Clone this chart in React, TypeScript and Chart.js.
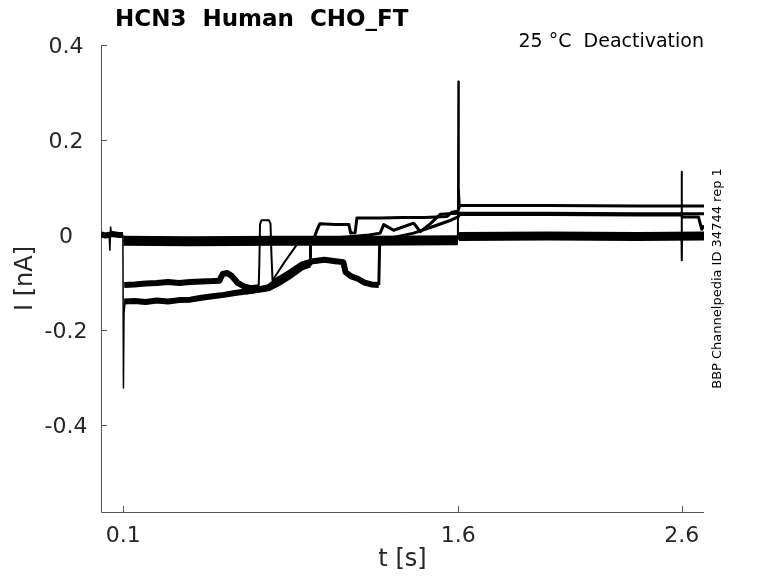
import React, { useEffect, useRef } from "react";
import { Chart, registerables } from "chart.js";

Chart.register(...registerables);

// ---- axes / ticks ----
const xTicks = [0.1, 1.6, 2.6];
const yTicks = [-0.4, -0.2, 0, 0.2, 0.4];
const xRange = [0, 2.7];
const yRange = [-0.583, 0.4];

// ---- texts ----
const titleText = "HCN3  Human  CHO_FT";
const conditionText = "25 °C  Deactivation";
const sideText = "BBP Channelpedia ID 34744 rep 1";
const xTitle = "t [s]";
const yTitle = "I [nA]";

// ---- traces (t in s, I in nA) ----
const preT = [0, 0.02, 0.05, 0.08, 0.099];
const preI = [0.001, -0.001, 0.002, 0.0, 0.0];

const blipT = [0.036, 0.04, 0.043, 0.047];
const blipI = [0.0, -0.032, 0.017, 0.0];

const spike1T = [0.098, 0.1005, 0.103, 0.108];
const spike1I = [0.0, -0.322, -0.165, -0.14];

const bandT = [0.1, 0.4, 0.8, 1.2, 1.598];
const bandI = [-0.012, -0.013, -0.012, -0.012, -0.011];

const band2T = [1.602, 2.0, 2.4, 2.7];
const band2I = [-0.003, -0.002, -0.003, -0.002];

const spike2T = [1.598, 1.6, 1.602, 1.606];
const spike2I = [-0.01, 0.323, 0.1, 0.062];

const spike3T = [2.599, 2.6, 2.601, 2.602];
const spike3I = [0.0, 0.133, -0.053, 0.0];

const aNoisyT = [0.104, 0.15, 0.2, 0.25, 0.3, 0.35, 0.4, 0.45, 0.5, 0.53, 0.545, 0.565, 0.585, 0.61, 0.64, 0.67, 0.706];
const aNoisyI = [-0.105, -0.104, -0.102, -0.101, -0.099, -0.101, -0.099, -0.098, -0.097, -0.096, -0.082, -0.08, -0.086, -0.1, -0.108, -0.112, -0.11];

const aPulseT = [0.706, 0.709, 0.712, 0.718, 0.752, 0.759, 0.763, 0.768, 0.776, 0.82, 0.87, 0.89];
const aPulseI = [-0.11, -0.06, 0.022, 0.031, 0.031, 0.024, -0.04, -0.095, -0.09, -0.058, -0.025, -0.012];

const aUpperT = [0.89, 0.95, 0.965, 0.98, 1.05, 1.11, 1.118, 1.138, 1.146, 1.25, 1.35, 1.45, 1.55, 1.57, 1.598, 1.606, 2.0, 2.4, 2.7];
const aUpperI = [-0.012, -0.012, 0.008, 0.024, 0.022, 0.022, 0.004, 0.005, 0.036, 0.036, 0.037, 0.037, 0.039, 0.048, 0.05, 0.062, 0.062, 0.061, 0.061];

const bNoisyT = [0.104, 0.15, 0.2, 0.25, 0.3, 0.35, 0.4, 0.45, 0.5, 0.55, 0.6, 0.65, 0.7, 0.75, 0.8, 0.85, 0.9, 0.936];
const bNoisyI = [-0.14, -0.139, -0.141, -0.138, -0.14, -0.137, -0.136, -0.132, -0.129, -0.126, -0.122, -0.119, -0.116, -0.112, -0.1, -0.085, -0.068, -0.062];

const bUpperT = [0.936, 0.938, 1.0, 1.1, 1.2, 1.25, 1.266, 1.31, 1.4, 1.43, 1.475, 1.52, 1.598, 1.606, 2.0, 2.4, 2.7];
const bUpperI = [-0.062, -0.012, -0.008, -0.004, 0.0, 0.004, 0.022, 0.01, 0.025, 0.007, 0.024, 0.044, 0.046, 0.046, 0.046, 0.045, 0.045];

const cNoisyT = [0.65, 0.7, 0.75, 0.8, 0.85, 0.9, 0.95, 1.0, 1.05, 1.085, 1.095, 1.12, 1.15, 1.18, 1.21, 1.244];
const cNoisyI = [-0.119, -0.115, -0.11, -0.092, -0.078, -0.062, -0.055, -0.052, -0.055, -0.057, -0.078, -0.087, -0.092, -0.1, -0.104, -0.105];

const cUpperT = [1.244, 1.248, 1.3, 1.4, 1.5, 1.56, 1.598, 1.606, 2.0, 2.4, 2.6, 2.603, 2.675, 2.69, 2.7];
const cUpperI = [-0.105, -0.012, -0.006, 0.004, 0.02, 0.03, 0.038, 0.043, 0.043, 0.042, 0.042, 0.038, 0.038, 0.012, 0.02];

const FONT = "'DejaVu Sans', sans-serif";

function pts(t: number[], i: number[]) {
  return t.map((x, k) => ({ x, y: i[k] }));
}

function ds(t: number[], i: number[], width: number) {
  return {
    data: pts(t, i),
    borderColor: "#000000",
    backgroundColor: "#000000",
    borderWidth: width,
    pointRadius: 0,
    tension: 0,
    fill: false,
    borderJoinStyle: "round" as const,
    borderCapStyle: "butt" as const,
  };
}

const decoPlugin = {
  id: "deco",
  beforeDatasetsDraw(chart: any) {
    const { ctx, chartArea: a, scales } = chart;
    const xs = scales.x;
    const ys = scales.y;
    ctx.save();
    ctx.strokeStyle = "#555555";
    ctx.lineWidth = 1;
    ctx.beginPath();
    ctx.moveTo(a.left + 0.5, a.top);
    ctx.lineTo(a.left + 0.5, a.bottom + 0.5);
    ctx.lineTo(a.right, a.bottom + 0.5);
    for (const v of yTicks) {
      const py = Math.round(ys.getPixelForValue(v)) + 0.5;
      ctx.moveTo(a.left, py);
      ctx.lineTo(a.left + 6, py);
    }
    for (const v of xTicks) {
      const px = Math.round(xs.getPixelForValue(v)) + 0.5;
      ctx.moveTo(px, a.bottom);
      ctx.lineTo(px, a.bottom - 6);
    }
    ctx.stroke();
    ctx.restore();
  },
  afterDraw(chart: any) {
    const { ctx, chartArea: a, scales } = chart;
    const xs = scales.x;
    const ys = scales.y;
    ctx.save();
    ctx.fillStyle = "#262626";
    ctx.font = `22px ${FONT}`;
    ctx.textAlign = "center";
    ctx.textBaseline = "alphabetic";
    for (const v of yTicks) {
      const py = ys.getPixelForValue(v);
      ctx.fillText(String(v), 66, py + 8);
    }
    for (const v of xTicks) {
      const px = xs.getPixelForValue(v);
      ctx.fillText(String(v), px, a.bottom + 30);
    }
    // axis titles
    ctx.font = `24px ${FONT}`;
    ctx.fillText(xTitle, (a.left + a.right) / 2, a.bottom + 54);
    ctx.save();
    ctx.translate(26, (a.top + a.bottom) / 2);
    ctx.rotate(-Math.PI / 2);
    ctx.textBaseline = "middle";
    ctx.fillText(yTitle, 0, 0);
    ctx.restore();
    // title
    ctx.fillStyle = "#000000";
    ctx.font = `bold 23px ${FONT}`;
    ctx.textAlign = "left";
    ctx.fillText(titleText, a.left + 14, 26);
    // condition
    ctx.font = `19px ${FONT}`;
    ctx.textAlign = "right";
    ctx.fillText(conditionText, a.right, a.top + 2);
    // side text
    ctx.font = `13px ${FONT}`;
    ctx.save();
    ctx.translate(717.5, (a.top + a.bottom) / 2);
    ctx.rotate(-Math.PI / 2);
    ctx.textAlign = "center";
    ctx.textBaseline = "middle";
    ctx.fillText(sideText, 0, 0);
    ctx.restore();
    ctx.restore();
  },
};

export default function App() {
  const ref = useRef<HTMLCanvasElement | null>(null);
  useEffect(() => {
    if (!ref.current) return;
    const chart = new Chart(ref.current, {
      type: "line",
      data: {
        datasets: [
          ds(preT, preI, 6),
          ds(blipT, blipI, 1.5),
          ds(spike1T, spike1I, 1.5),
          ds(bandT, bandI, 10),
          ds(band2T, band2I, 9),
          ds(spike2T, spike2I, 2),
          ds(spike3T, spike3I, 2),
          ds(aNoisyT, aNoisyI, 6),
          ds(aPulseT, aPulseI, 2),
          ds(aUpperT, aUpperI, 3),
          ds(bNoisyT, bNoisyI, 6),
          ds(bUpperT, bUpperI, 3),
          ds(cNoisyT, cNoisyI, 6),
          ds(cUpperT, cUpperI, 3),
        ] as any,
      },
      options: {
        responsive: false,
        animation: false,
        devicePixelRatio: 1,
        layout: { padding: { left: 0, top: 45, right: 74, bottom: 0 } },
        plugins: {
          legend: { display: false },
          title: { display: false },
          tooltip: { enabled: false },
        },
        events: [],
        scales: {
          x: {
            type: "linear",
            min: xRange[0],
            max: xRange[1],
            grid: { display: false },
            border: { display: false },
            ticks: { display: false },
            afterFit: (s: any) => {
              s.height = 71;
            },
          },
          y: {
            type: "linear",
            min: yRange[0],
            max: yRange[1],
            grid: { display: false },
            border: { display: false },
            ticks: { display: false },
            afterFit: (s: any) => {
              s.width = 101;
            },
          },
        },
      } as any,
      plugins: [decoPlugin],
    });
    return () => chart.destroy();
  }, []);
  return (
    <div style={{ position: "absolute", left: 0, top: 0, width: 778, height: 583, background: "#ffffff" }}>
      <canvas ref={ref} width={778} height={583} style={{ display: "block", width: 778, height: 583 }} />
    </div>
  );
}
